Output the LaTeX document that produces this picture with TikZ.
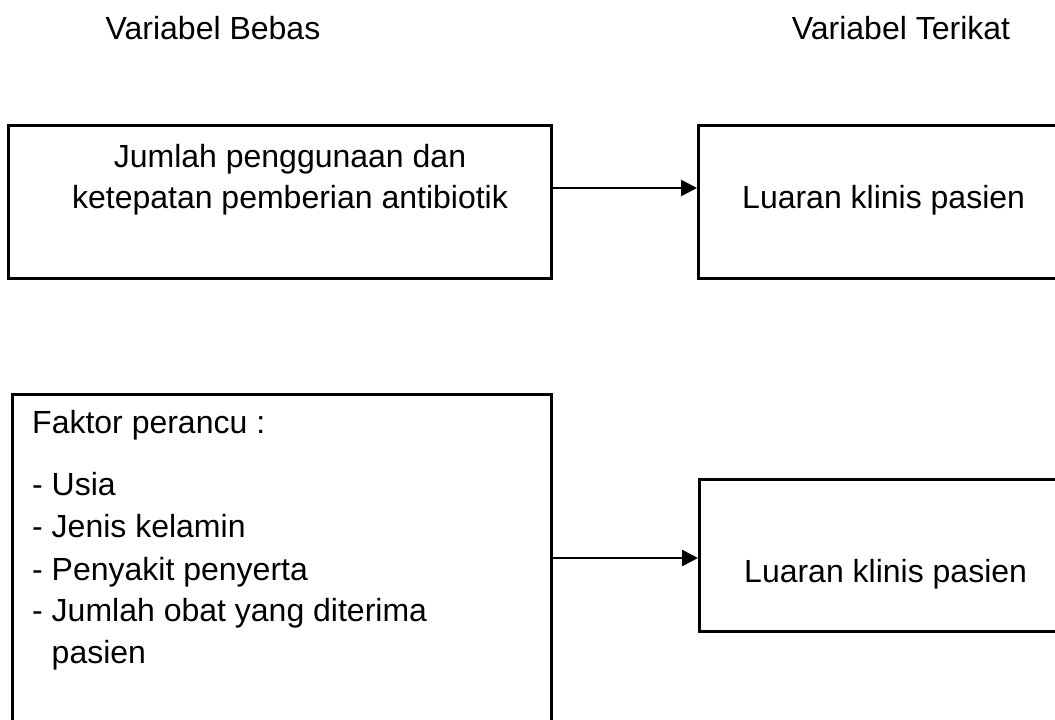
\documentclass[tikz,border=0pt]{standalone}
\usepackage{fontspec}
\setmainfont{Liberation Sans}
\usetikzlibrary{arrows.meta,calc}
\begin{document}
\begin{tikzpicture}[x=1pt,y=-1pt,
  box/.style={draw,line width=2.7pt,rectangle,inner sep=0pt,anchor=north west},
  lbl/.style={inner sep=0pt,font=\fontsize{32}{42}\selectfont},
  arr/.style={line width=2.7pt,-{Triangle[length=16pt,width=16pt]}}]
\useasboundingbox (0,0) rectangle (1055,720);
% headings
\node[lbl,anchor=base] (h1) at (213,39) {Variabel Bebas};
\node[lbl,anchor=base] (h2) at (901,39) {Variabel Terikat};
% boxes
\node[box,minimum width=543pt,minimum height=153pt] (b1) at (7,124) {};
\node[box,minimum width=380pt,minimum height=153pt] (b2) at (697,124) {};
\node[box,minimum width=539pt,minimum height=360pt] (b3) at (11,393) {};
\node[box,minimum width=380pt,minimum height=152pt] (b4) at (698,478) {};
% texts
\node[lbl,anchor=base] (t1) at (290,167) {Jumlah penggunaan dan};
\node[lbl,anchor=base] (t2) at (290,208) {ketepatan pemberian antibiotik};
\node[lbl,anchor=base west] (t3) at (742,208) {Luaran klinis pasien};
\node[lbl,anchor=base west] (f0) at (32,433) {Faktor perancu :};
\node[lbl,anchor=base west] (f1) at (32,495) {- Usia};
\node[lbl,anchor=base west] (f2) at (32,537) {- Jenis kelamin};
\node[lbl,anchor=base west] (f3) at (32,580) {- Penyakit penyerta};
\node[lbl,anchor=base west] (f4) at (32,621) {- Jumlah obat yang diterima};
\node[lbl,anchor=base west] (f5) at (32,663) {\phantom{- }pasien};
\node[lbl,anchor=base west] (t4) at (744,582) {Luaran klinis pasien};
% connectors
\coordinate (a1) at (0,188);
\coordinate (a2) at (0,558);
\draw[arr] (b1.east |- a1) -- (b2.west |- a1);
\draw[arr] (b3.east |- a2) -- (b4.west |- a2);
\end{tikzpicture}
\end{document}
